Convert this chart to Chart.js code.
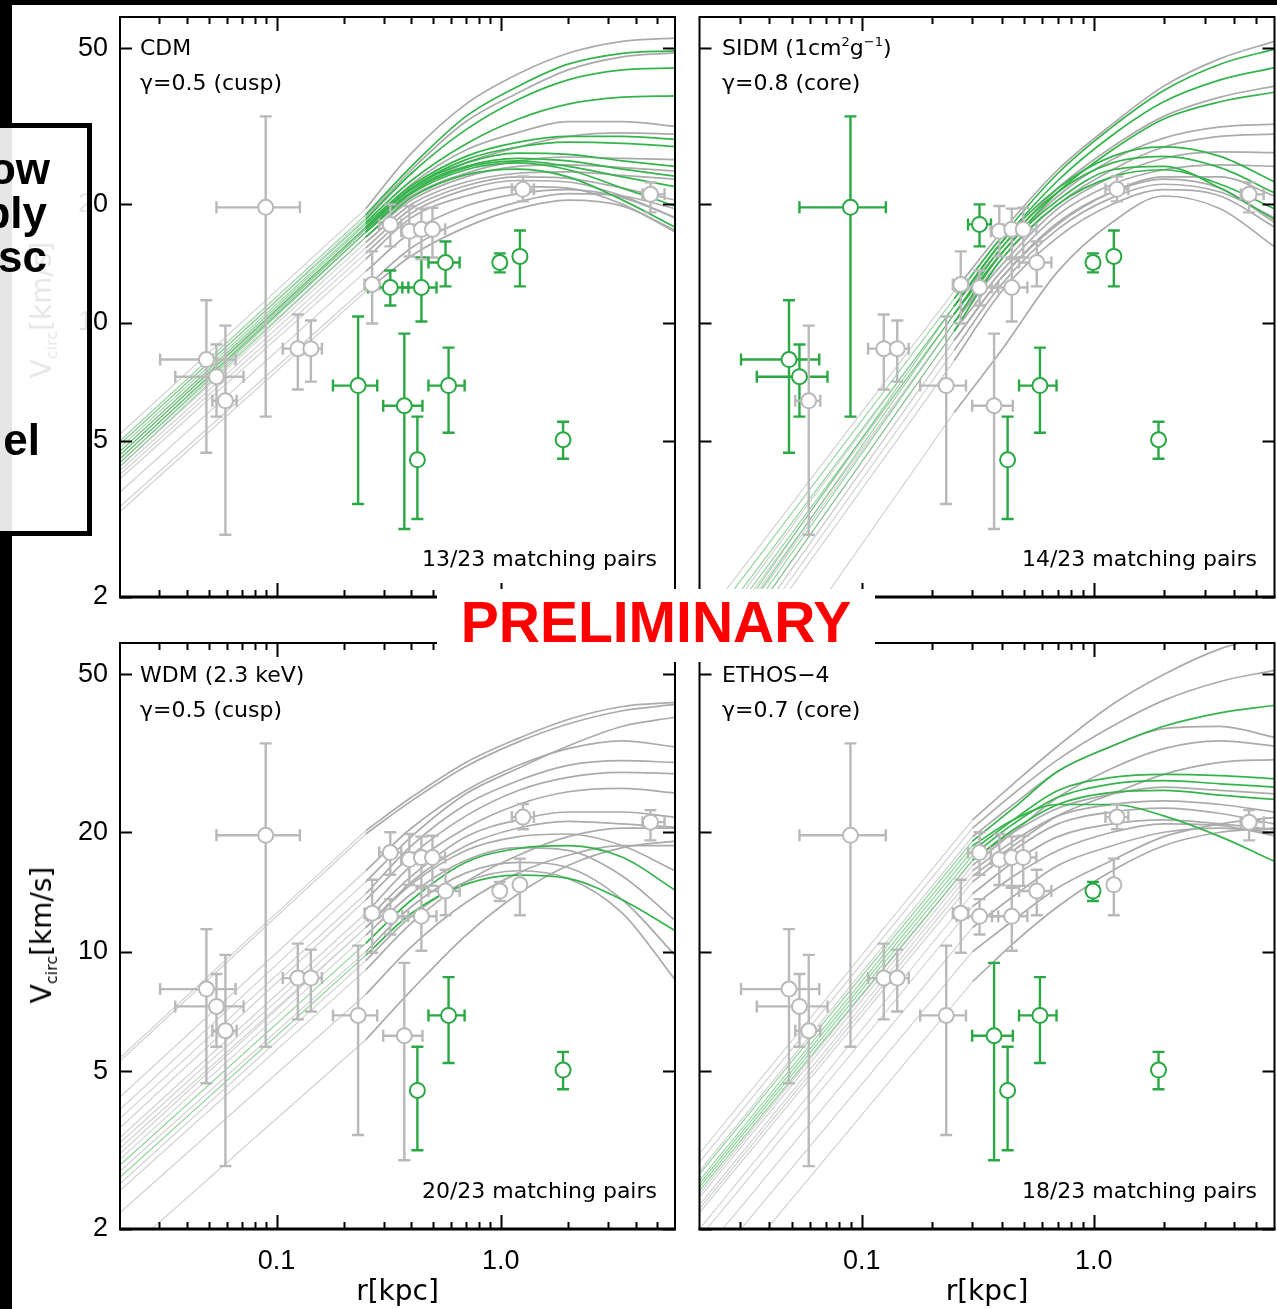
<!DOCTYPE html>
<html><head><meta charset="utf-8">
<script src="https://cdn.jsdelivr.net/npm/chart.js@4.4.1/dist/chart.umd.min.js"></script>
<style>
html,body{margin:0;padding:0;background:#fff;}
body{width:1277px;height:1309px;position:relative;overflow:hidden;font-family:"DejaVu Sans",sans-serif;}
canvas{position:absolute;}
.lbl{position:absolute;font-family:"DejaVu Sans",sans-serif;font-size:22px;line-height:22px;color:#000;white-space:nowrap;}
.lbl sup{font-size:13px;vertical-align:9px;line-height:0;}
.ytitle{position:absolute;font-family:"DejaVu Sans",sans-serif;font-size:28px;line-height:28px;white-space:nowrap;transform:translate(-50%,-50%) rotate(-90deg);color:#000;}
.ytitle sub{font-size:16px;vertical-align:-6px;line-height:0;}
.black{position:absolute;background:#000;}
#prelim{position:absolute;left:437px;top:589px;width:438px;height:73px;background:#fff;}
#prelimText{position:absolute;left:437px;width:438px;top:594px;text-align:center;font-family:"Liberation Sans",Arial,sans-serif;font-weight:bold;font-size:57px;line-height:57px;color:#ff0000;white-space:nowrap;}
#slidebox{position:absolute;left:-200px;top:123px;width:282px;height:403px;border:5px solid #000;background:rgba(255,255,255,0.9);}
.sw{position:absolute;font-family:"Liberation Sans",Arial,sans-serif;font-weight:bold;font-size:44px;line-height:44px;color:#000;white-space:nowrap;text-align:right;}
</style></head>
<body>
<canvas id="c1" width="690" height="620" style="left:0;top:0"></canvas>
<canvas id="c2" width="594" height="620" style="left:690px;top:0"></canvas>
<canvas id="c3" width="690" height="680" style="left:0;top:630px"></canvas>
<canvas id="c4" width="594" height="680" style="left:690px;top:630px"></canvas>

<div class="ytitle" style="left:42px;top:310px">V<sub>circ</sub>[km/s]</div>
<div class="ytitle" style="left:42px;top:935px">V<sub>circ</sub>[km/s]</div>

<div class="lbl" style="left:140px;top:37px">CDM</div>
<div class="lbl" style="left:140px;top:72px">γ=0.5 (cusp)</div>
<div class="lbl" style="right:620px;top:548px">13/23 matching pairs</div>

<div class="lbl" style="left:722px;top:37px">SIDM (1cm<sup>2</sup>g<sup>−1</sup>)</div>
<div class="lbl" style="left:722px;top:72px">γ=0.8 (core)</div>
<div class="lbl" style="right:20px;top:548px">14/23 matching pairs</div>

<div class="lbl" style="left:140px;top:664px">WDM (2.3 keV)</div>
<div class="lbl" style="left:140px;top:699px">γ=0.5 (cusp)</div>
<div class="lbl" style="right:620px;top:1180px">20/23 matching pairs</div>

<div class="lbl" style="left:722px;top:664px">ETHOS−4</div>
<div class="lbl" style="left:722px;top:699px">γ=0.7 (core)</div>
<div class="lbl" style="right:20px;top:1180px">18/23 matching pairs</div>

<div id="prelim"></div>
<div id="prelimText">PRELIMINARY</div>

<div class="black" style="left:0;top:0;width:1277px;height:5px"></div>
<div class="black" style="left:0;top:0;width:12px;height:1309px"></div>
<div id="slidebox"></div>
<div class="sw" style="right:1227px;top:147px">ow</div>
<div class="sw" style="right:1230px;top:191px">bly</div>
<div class="sw" style="right:1230px;top:235px">sc</div>
<div class="sw" style="right:1237px;top:418px">el</div>

<script>
// ---------- axes ----------
const X_MIN = 0.02, X_MAX = 6, Y_MIN = 2, Y_MAX = 60;
const X_LABEL_TICKS = [0.1, 1.0];
const X_MINOR_TICKS = [0.03,0.04,0.05,0.06,0.07,0.08,0.09,0.2,0.3,0.4,0.5,0.6,0.7,0.8,0.9,2,3,4,5];
const Y_TICKS = [2, 5, 10, 20, 50];

// ---------- observed data points (same 23 objects in every panel) ----------
const R_PTS = [0.0486,0.0539,0.0591,0.0894,0.1244,0.1422,0.2311,0.2670,0.3217,0.3217,0.3716,0.3913,0.4429,0.4250,0.4429,0.4963,0.5675,0.5855,0.9911,1.219,1.257,1.899,4.664];
const R_LO  = [0.0302,0.0353,0.0517,0.0539,0.1065,0.1296,0.1785,0.2468,0.2870,0.2563,0.2991,0.3600,0.3640,0.4078,0.408,0.4661,0.4761,0.4761,0.9437,1.157,1.122,1.806,4.293];
const R_HI  = [0.0656,0.0712,0.0663,0.1270,0.1337,0.1593,0.2812,0.2877,0.3603,0.3874,0.4477,0.4250,0.5173,0.4429,0.481,0.5652,0.6560,0.6904,1.049,1.282,1.408,1.998,5.39];
const V_PTS = [8.05,7.28,6.32,19.65,8.58,8.58,6.91,12.50,17.78,12.28,6.14,17.07,12.28,4.47,17.27,17.27,14.22,6.91,14.22,14.74,21.84,5.03,21.21];
const V_LO  = [4.66,5.76,2.88,5.76,6.75,7.07,3.45,9.94,15.63,11.05,2.98,14.73,10.06,3.16,14.5,14.65,12.36,5.24,13.42,12.36,20.35,4.50,19.08];
const V_HI  = [11.40,8.79,9.82,33.5,10.48,10.12,10.36,15.18,20.0,13.57,9.37,19.8,14.65,5.76,19.5,19.6,16.09,8.63,15.0,17.16,23.57,5.59,22.75];

// 1 = matching (green), 0 = not matching (grey)
const MATCH_CDM   = [0,0,0,0,0,0,1,0,0,1,1,0,1,1,0,0,1,1,1,1,0,1,0];
const MATCH_SIDM  = [1,1,0,1,0,0,0,0,1,0,0,0,0,1,0,0,0,1,1,1,0,1,0];
const MATCH_WDM   = [0,0,0,0,0,0,0,0,0,0,0,0,0,1,0,0,0,1,0,0,0,1,0];
const MATCH_ETHOS = [0,0,0,0,0,0,0,0,0,0,1,0,0,1,0,0,0,1,1,0,0,1,0];

// ---------- simulated rotation curves: first point = inner start, second = convergence radius ----------
const CURVE_R_CDM = [0.02, 0.25, 0.4, 0.7, 1.2, 2.0, 3.5, 6.0];
const CURVES_CDM = [
 [5.2,19.5,27,36,43,48.5,52,53],
 [5.0,18.8,25,33.5,40,45.5,48.5,49.2],
 [4.9,18.5,24.5,32.5,38.5,44,47.5,48.6],
 [4.9,18.3,24,31,37,41.5,44,44.5],
 [4.8,18,23,28.5,33,36,37.5,37.8],
 [4.7,17.5,22.5,27.5,30.5,32.5,32.5,31.6],
 [4.6,17.3,21.5,25.5,28,29.8,30.4,30.2],
 [4.7,17.8,22.3,26.5,28.8,29.8,29.8,29.3],
 [4.6,17.5,22,26,28,28.8,28.6,28.1],
 [4.5,17,21,24,25.8,26.4,26.2,26],
 [4.6,17.5,22,25.5,27,26.8,25.8,25],
 [4.4,16.5,20.5,23.5,25,25.2,24.8,24.3],
 [4.5,17.3,21.8,25,26.2,25.8,24.6,23.6],
 [4.3,16,20,22.8,24,24.2,23.7,23.2],
 [4.5,17,21.5,24.8,25.8,25,23.5,22.2],
 [4.4,17,21.3,24.5,25.5,24.5,22,19.8],
 [4.2,15.5,19.5,22.3,23.5,23.3,22,20.5],
 [4.1,15,19,21.8,23,22.8,21,18.5],
 [4.0,14.5,18.5,21,22.2,22,20,17],
 [4.3,16.5,20.8,23.8,24.6,23.5,20.5,17.5],
 [3.7,13.5,17,19.8,21.3,21.8,20.8,18.5],
 [3.4,12.3,15.5,18.3,20.3,21.3,21,19.5],
 [3.3,12,14.8,17.5,19.5,20.5,19.8,17.2]
];
const CURVE_MATCH_CDM = [0,1,0,1,1,0,0,1,1,0,1,0,1,0,1,1,0,0,0,1,0,0,0];

const CURVE_R_SIDM = [0.02, 0.25, 0.4, 0.7, 1.2, 2.0, 3.5, 6.0];
const CURVES_SIDM = [
 [1.7,12,17,24.5,32,40,47,52],
 [1.6,11.5,16.5,24,31.5,39,45.5,49.7],
 [1.5,11,16,23,30,36.5,41.5,44.6],
 [1.45,11,15.5,22,28,33.5,37.5,40],
 [1.4,10.5,15,21.5,27.5,33,36.5,38.6],
 [1.35,10.5,15,21,26,29.5,31.5,32],
 [1.3,10,14.5,20,24.5,28,29.8,30.2],
 [1.25,10,14,19.5,23.5,26.2,27.2,27.1],
 [1.3,11,16,22,26.5,28,26.5,22.8],
 [1.15,9.5,13.5,18.8,22.5,24.5,25.2,25],
 [1.25,10.5,15.5,21.5,25.5,26.5,24.8,21.4],
 [1.2,10,15,20.5,24.5,25,22,18.3],
 [1.1,9,13,18,21.5,23.2,22,18],
 [1.05,8.5,12.5,17.3,20.8,22.5,21.5,18.5],
 [1.15,9.5,14.5,20,23.5,24.5,22.5,19.5],
 [1.0,8,12,16.5,20,21.8,21,17.5],
 [0.7,5.9,8.5,13.5,18,21,19.5,15.6],
 [1.1,9,13,17.8,21.5,23.5,23.5,21]
];
const CURVE_MATCH_SIDM = [0,1,1,0,1,0,0,0,1,0,1,1,0,0,1,0,0,0];

const CURVE_R_WDM = [0.02, 0.25, 0.4, 0.7, 1.2, 2.0, 3.5, 6.0];
const CURVES_WDM = [
 [5.4,20.2,24.5,30,34.5,38.5,41.5,42.5],
 [5.3,19.8,24,29.3,33.8,37.5,40.5,42],
 [4.0,15,19.5,25,29,33,37,39],
 [4.3,16,20.5,25.5,29.5,32.5,34,32.8],
 [3.8,14,18.5,23.5,27,29.5,30.3,30],
 [3.6,13.5,17.5,22,25.5,27.5,28.3,28.1],
 [3.4,12.5,16.5,20.5,23.5,25.3,25.8,25.1],
 [3.3,12,15.5,19.5,21.5,22.5,22.5,21.8],
 [3.2,11.5,15,18.5,20.5,21.3,21,20.6],
 [2.9,10.5,13.5,16.8,18.2,18.5,17.3,14.3],
 [2.7,9.8,12.5,14.8,15.6,15.3,13.5,11.3],
 [3.0,11,14,17,18.3,18,15.5,12],
 [2.8,10,13,15.8,16.8,16.3,13.5,9.8],
 [2.6,9.5,12.3,15,16,15.3,12.5,8.5],
 [2.2,7.8,10.3,13.3,15.8,17.5,18.5,18.5],
 [1.7,6,8,11,14,16.5,18.3,19],
 [3.1,11.5,14.8,18,19.5,19.8,18.5,16],
 [2.5,9,11.8,15,17.5,19.5,20.5,20.5]
];
const CURVE_MATCH_WDM = [0,0,0,0,0,0,0,0,0,1,1,0,0,0,0,0,0,0];

const CURVE_R_ETHOS = [0.02, 0.3, 0.45, 0.7, 1.2, 2.0, 3.5, 6.0];
const CURVES_ETHOS = [
 [3.1,21.5,26.5,33,42,50,58,63],
 [2.95,20.5,25,30.5,37,43,48,51.2],
 [2.75,19,23,28.5,33,37,40,41.8],
 [2.8,19.5,23.5,28.5,33,36.5,37,34.7],
 [2.6,18,21.5,25.5,27.5,28,27.8,27.3],
 [2.55,17.5,21,24.5,26.5,27,26.5,26],
 [2.65,18.5,21.5,23.5,23.5,22,19.5,16.9],
 [2.45,17,20,23,25,26,25.5,25],
 [2.5,17,20.3,23.5,25.2,25.5,24.8,24.2],
 [2.3,16,19,22,23.5,24,23.5,22.5],
 [2.2,15,18,21,22.5,23,22.3,21],
 [2.0,14,16.8,19.5,21,21.5,21,20.3],
 [1.9,13,15.5,18,20,21,20.8,19.6],
 [1.7,11.5,13.8,16.5,18.5,20,20.5,20],
 [1.5,10,12,14.5,17,19.5,21,21.8],
 [1.25,8.4,10.5,13,16,18.5,20,20.5],
 [2.25,15.5,18.5,22,25,28,30,30.5],
 [2.4,16.5,20,24.5,29,32.5,34,33]
];
const CURVE_MATCH_ETHOS = [0,0,1,0,1,1,1,0,1,0,0,0,0,0,0,0,0,0];

// ---------- styles ----------
const GREEN = '#35b44c', GRAY = '#ababab';
const GREEN_THIN = 'rgba(60,180,80,0.6)', GRAY_THIN = '#cfcfcf';
const PT_GREEN = '#2aa844', PT_GRAY = '#b9b9b9';

const framePlugin = {
  id: 'frame',
  afterDraw(chart) {
    const {ctx, chartArea: a, scales: {x, y}} = chart;
    ctx.save();
    ctx.strokeStyle = '#000';
    ctx.lineWidth = 2;
    ctx.strokeRect(a.left, a.top, a.right - a.left, a.bottom - a.top);
    ctx.lineWidth = 3;
    ctx.beginPath(); ctx.moveTo(a.left - 1, a.bottom); ctx.lineTo(a.right + 1, a.bottom); ctx.stroke();
    ctx.lineWidth = 2;
    ctx.beginPath();
    Y_TICKS.forEach(v => {
      const py = Math.round(y.getPixelForValue(v)) + 0.5;
      ctx.moveTo(a.left, py); ctx.lineTo(a.left + 12, py);
      ctx.moveTo(a.right, py); ctx.lineTo(a.right - 12, py);
    });
    X_LABEL_TICKS.forEach(v => {
      const px = Math.round(x.getPixelForValue(v)) + 0.5;
      ctx.moveTo(px, a.top); ctx.lineTo(px, a.top + 14);
      ctx.moveTo(px, a.bottom); ctx.lineTo(px, a.bottom - 14);
    });
    X_MINOR_TICKS.forEach(v => {
      const px = Math.round(x.getPixelForValue(v)) + 0.5;
      ctx.moveTo(px, a.top); ctx.lineTo(px, a.top + 7);
      ctx.moveTo(px, a.bottom); ctx.lineTo(px, a.bottom - 7);
    });
    ctx.stroke();
    ctx.restore();
  }
};

const errPlugin = {
  id: 'errbars',
  beforeDatasetDraw(chart, args) {
    if (args.index !== 0) return;
    const {ctx, chartArea: a, scales: {x, y}} = chart;
    const colors = chart.data.datasets[0].pointBorderColor;
    ctx.save();
    ctx.beginPath(); ctx.rect(a.left, a.top, a.right - a.left, a.bottom - a.top); ctx.clip();
    ctx.lineWidth = 2.4;
    ctx.lineCap = 'butt';
    for (let i = 0; i < R_PTS.length; i++) {
      ctx.strokeStyle = colors[i];
      const px = x.getPixelForValue(R_PTS[i]), py = y.getPixelForValue(V_PTS[i]);
      const x0 = x.getPixelForValue(R_LO[i]), x1 = x.getPixelForValue(R_HI[i]);
      const y0 = y.getPixelForValue(V_LO[i]), y1 = y.getPixelForValue(V_HI[i]);
      ctx.beginPath();
      ctx.moveTo(px, y0); ctx.lineTo(px, y1);
      ctx.moveTo(px - 6, y0); ctx.lineTo(px + 6, y0);
      ctx.moveTo(px - 6, y1); ctx.lineTo(px + 6, y1);
      ctx.moveTo(x0, py); ctx.lineTo(x1, py);
      ctx.moveTo(x0, py - 6); ctx.lineTo(x0, py + 6);
      ctx.moveTo(x1, py - 6); ctx.lineTo(x1, py + 6);
      ctx.stroke();
    }
    ctx.restore();
  }
};

function buildChart(id, opt) {
  const ptColors = opt.match.map(m => m ? PT_GREEN : PT_GRAY);
  const pts = R_PTS.map((r, i) => ({x: r, y: V_PTS[i]}));
  const thickG = [], thickK = [], thinG = [], thinK = [];
  opt.curves.forEach((c, k) => {
    const green = opt.curveMatch[k] === 1;
    const outer = opt.curveR.slice(1).map((r, j) => ({x: r, y: c[j + 1]}));
    const inner = opt.curveR.slice(0, 2).map((r, j) => ({x: r, y: c[j]}));
    (green ? thickG : thickK).push({
      data: outer, showLine: true, borderColor: green ? GREEN : GRAY, borderWidth: 1.7,
      pointRadius: 0, cubicInterpolationMode: 'monotone', fill: false
    });
    (green ? thinG : thinK).push({
      data: inner, showLine: true, borderColor: green ? GREEN_THIN : GRAY_THIN, borderWidth: 1.1,
      pointRadius: 0, fill: false
    });
  });
  const datasets = [{
    data: pts, showLine: false, pointRadius: 7.5, pointBorderWidth: 2,
    pointBackgroundColor: '#ffffff', pointBorderColor: ptColors
  }].concat(thickG, thickK, thinG, thinK);

  const tickFont = {family: 'Liberation Sans', size: 27};
  return new Chart(document.getElementById(id), {
    type: 'scatter',
    data: {datasets},
    options: {
      responsive: false, animation: false, devicePixelRatio: 1, events: [],
      layout: {padding: opt.pad},
      plugins: {legend: {display: false}, tooltip: {enabled: false}},
      scales: {
        x: {
          type: 'logarithmic', min: X_MIN, max: X_MAX, position: 'bottom',
          grid: {display: false, drawTicks: false}, border: {display: false},
          afterBuildTicks: s => { s.ticks = X_LABEL_TICKS.map(v => ({value: v})); },
          afterFit: s => { s.height = opt.xH; s.paddingLeft = 0; s.paddingRight = 0; },
          ticks: {display: opt.xLabels, autoSkip: false, maxRotation: 0, padding: 16, color: '#000', font: tickFont,
                  callback: v => v < 1 ? String(v) : v.toFixed(1)},
          title: {display: opt.xLabels, text: 'r[kpc]', color: '#000', padding: 0,
                  font: {family: 'DejaVu Sans', size: 28}}
        },
        y: {
          type: 'logarithmic', min: Y_MIN, max: Y_MAX, position: 'left',
          grid: {display: false, drawTicks: false}, border: {display: false},
          afterBuildTicks: s => { s.ticks = Y_TICKS.map(v => ({value: v})); },
          afterFit: s => { s.width = opt.yW; s.paddingTop = 0; s.paddingBottom = 0; },
          ticks: {display: opt.yLabels, autoSkip: false, padding: 12, color: '#000', font: tickFont,
                  callback: v => String(v)}
        }
      }
    },
    plugins: [errPlugin, framePlugin]
  });
}

buildChart('c1', {match: MATCH_CDM, curves: CURVES_CDM, curveR: CURVE_R_CDM, curveMatch: CURVE_MATCH_CDM,
  pad: {top: 17, right: 15, left: 0, bottom: 0}, xH: 23, yW: 120, xLabels: false, yLabels: true});
buildChart('c2', {match: MATCH_SIDM, curves: CURVES_SIDM, curveR: CURVE_R_SIDM, curveMatch: CURVE_MATCH_SIDM,
  pad: {top: 17, right: 9, left: 0, bottom: 0}, xH: 23, yW: 9, xLabels: false, yLabels: false});
buildChart('c3', {match: MATCH_WDM, curves: CURVES_WDM, curveR: CURVE_R_WDM, curveMatch: CURVE_MATCH_WDM,
  pad: {top: 13, right: 15, left: 0, bottom: 0}, xH: 81, yW: 120, xLabels: true, yLabels: true});
buildChart('c4', {match: MATCH_ETHOS, curves: CURVES_ETHOS, curveR: CURVE_R_ETHOS, curveMatch: CURVE_MATCH_ETHOS,
  pad: {top: 13, right: 9, left: 0, bottom: 0}, xH: 81, yW: 9, xLabels: true, yLabels: false});
</script>
</body></html>
